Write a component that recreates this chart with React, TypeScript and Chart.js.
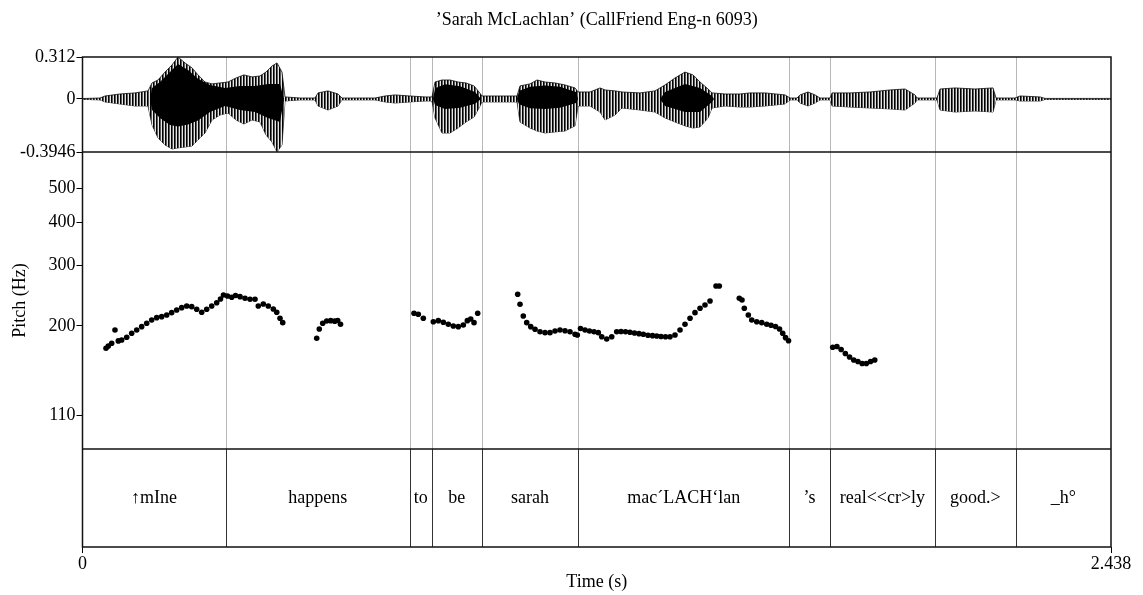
import { useEffect, useRef } from 'react';
import { Chart, registerables } from 'chart.js';

Chart.register(...registerables);

const FONT_FAMILY = "'Liberation Serif', 'Times New Roman', Times, serif";
const TITLE = '\u2019Sarah McLachlan\u2019 (CallFriend Eng-n 6093)';
const DURATION = 2.438;

// Waveform envelope (seconds, amplitude): outer extremes
const waveTimes = [
  0, 0.0415, 0.0533, 0.0889, 0.1245, 0.1553, 0.1648, 0.179, 0.1956, 0.2122,
  0.2264, 0.243, 0.2596, 0.2738, 0.2904, 0.307, 0.3259, 0.3449, 0.3639, 0.3828,
  0.4018, 0.4208, 0.435, 0.4492, 0.4611, 0.4729, 0.48, 0.5156, 0.5511, 0.5583,
  0.582, 0.6057, 0.6151, 0.6934, 0.7171, 0.7408, 0.7763, 0.8119, 0.8285, 0.8356,
  0.8522, 0.8712, 0.8901, 0.9091, 0.9281, 0.9399, 0.947, 0.9897, 1.03, 1.0371,
  1.0608, 1.0774, 1.0964, 1.1201, 1.1438, 1.1675, 1.1746, 1.203, 1.2268, 1.2386,
  1.2623, 1.2789, 1.3216, 1.3571, 1.3808, 1.4045, 1.4282, 1.4472, 1.4638, 1.4828,
  1.4922, 1.523, 1.5586, 1.5823, 1.6178, 1.6653, 1.6771, 1.6937, 1.7008, 1.7198,
  1.7364, 1.7482, 1.772, 1.7767, 1.8194, 1.8668, 1.9142, 1.9498, 1.9734, 1.9781,
  2.0256, 2.0327, 2.0683, 2.1156, 2.1583, 2.1655, 2.2105, 2.2223, 2.2698, 2.2816,
  2.438,
];
const waveUpper = [
  0.003, 0.007, 0.022, 0.037, 0.045, 0.06, 0.119, 0.141, 0.2, 0.253,
  0.312, 0.268, 0.231, 0.179, 0.126, 0.112, 0.119, 0.126, 0.156, 0.179,
  0.164, 0.171, 0.2, 0.245, 0.268, 0.2, 0.015, 0.007, 0.007, 0.045,
  0.06, 0.037, 0.007, 0.007, 0.022, 0.03, 0.022, 0.015, 0.015, 0.126,
  0.141, 0.141, 0.126, 0.119, 0.097, 0.052, 0.022, 0.022, 0.022, 0.097,
  0.112, 0.141, 0.126, 0.119, 0.104, 0.082, 0.052, 0.052, 0.082, 0.067,
  0.06, 0.052, 0.045, 0.06, 0.104, 0.156, 0.2, 0.179, 0.126, 0.074,
  0.045, 0.037, 0.037, 0.045, 0.045, 0.03, 0.007, 0.007, 0.03, 0.052,
  0.03, 0.007, 0.007, 0.045, 0.045, 0.052, 0.067, 0.074, 0.03, 0.007,
  0.007, 0.074, 0.082, 0.074, 0.082, 0.007, 0.007, 0.022, 0.015, 0.004,
  0.004,
];
const waveLower = [
  -0.003, -0.007, -0.022, -0.037, -0.052, -0.052, -0.193, -0.29, -0.342, -0.372,
  -0.364, -0.357, -0.35, -0.305, -0.253, -0.156, -0.119, -0.104, -0.156, -0.186,
  -0.156, -0.171, -0.268, -0.32, -0.394, -0.342, -0.015, -0.007, -0.007, -0.052,
  -0.082, -0.052, -0.007, -0.007, -0.022, -0.03, -0.022, -0.015, -0.015, -0.141,
  -0.253, -0.253, -0.216, -0.171, -0.134, -0.067, -0.022, -0.022, -0.022, -0.171,
  -0.216, -0.238, -0.253, -0.245, -0.238, -0.2, -0.052, -0.052, -0.097, -0.156,
  -0.119, -0.067, -0.082, -0.097, -0.141, -0.171, -0.2, -0.216, -0.208, -0.141,
  -0.067, -0.052, -0.06, -0.06, -0.052, -0.037, -0.007, -0.007, -0.03, -0.052,
  -0.03, -0.007, -0.007, -0.052, -0.06, -0.067, -0.074, -0.082, -0.03, -0.007,
  -0.007, -0.082, -0.097, -0.089, -0.097, -0.007, -0.007, -0.015, -0.015, -0.004,
  -0.004,
];

// Dense core of the louder stretches
const coreTimes = [
  0.16, 0.1648, 0.1837, 0.2074, 0.2264, 0.2501, 0.2738, 0.3022, 0.3378, 0.3734,
  0.4089, 0.4397, 0.4682, 0.4777, 0.8309, 0.8356, 0.8593, 0.8949, 0.9304, 0.9447,
  1.03, 1.0347, 1.0608, 1.0964, 1.1319, 1.1698, 1.1746, 1.369, 1.3808, 1.4282,
  1.4638, 1.4922, 1.497,
];
const coreUpper = [
  0, 0.082, 0.126, 0.2, 0.26, 0.215, 0.15, 0.104, 0.082, 0.097,
  0.097, 0.112, 0.112, 0, 0, 0.08, 0.11, 0.095, 0.052, 0,
  0, 0.06, 0.09, 0.1, 0.09, 0.052, 0, 0, 0.052, 0.112,
  0.082, 0.022, 0,
];
const coreLower = [
  0, -0.082, -0.141, -0.193, -0.205, -0.19, -0.16, -0.097, -0.052, -0.082,
  -0.097, -0.141, -0.171, 0, 0, -0.045, -0.075, -0.065, -0.035, 0,
  0, -0.04, -0.07, -0.075, -0.065, -0.03, 0, 0, -0.052, -0.097,
  -0.097, -0.022, 0,
];

// Pitch track (seconds, Hz)
const pitchTimes = [
  0.0557, 0.0612, 0.0692, 0.077, 0.0849, 0.0929, 0.1048, 0.1166, 0.1285, 0.1403,
  0.1522, 0.164, 0.1759, 0.1877, 0.1996, 0.2114, 0.2233, 0.2352, 0.247, 0.2589,
  0.2707, 0.2826, 0.2944, 0.3063, 0.3181, 0.3271, 0.3342, 0.3437, 0.3537, 0.3627,
  0.3734, 0.3852, 0.3971, 0.4089, 0.4167, 0.4286, 0.4404, 0.4523, 0.4604, 0.4682,
  0.4746,
  0.5552, 0.5613, 0.5694, 0.5789, 0.5884, 0.5978, 0.605, 0.6116,
  0.7858, 0.796, 0.8079,
  0.8316, 0.8434, 0.8553, 0.8671, 0.879, 0.8908, 0.9027, 0.9122, 0.9202, 0.9281,
  0.9368,
  1.0316, 1.0371, 1.0449, 1.053, 1.0625, 1.0727, 1.0845, 1.0964, 1.1082, 1.1201,
  1.1319, 1.1438, 1.1556, 1.1675, 1.1729,
  1.1805, 1.1912, 1.2018, 1.2125, 1.2227, 1.2308, 1.2426, 1.2545, 1.2663, 1.2765,
  1.2872, 1.2978, 1.3085, 1.3192, 1.3294, 1.3405, 1.3512, 1.3611, 1.3713, 1.382,
  1.3927, 1.4045, 1.4164, 1.4282, 1.4401, 1.4519, 1.4638, 1.4756, 1.4875, 1.5017,
  1.5095,
  1.5569, 1.5633, 1.5688, 1.5783, 1.5864, 1.5982, 1.6101, 1.6219, 1.6321, 1.6428,
  1.6523, 1.6598, 1.6665, 1.6736,
  1.7784, 1.7883, 1.7983, 1.8083, 1.8182, 1.8282, 1.8381, 1.8481, 1.858, 1.868,
  1.878,
];
const pitchHz = [
  172.4, 175.0, 178.2, 194.7, 181.0, 182.2, 185.5, 190.5, 194.7, 199.1,
  203.6, 208.2, 211.4, 212.8, 215.2, 218.6, 222.5, 226.0, 228.5, 227.5,
  223.6, 219.1, 223.6, 228.5, 233.6, 239.5, 245.9, 244.3, 242.2, 245.1,
  243.2, 240.6, 239.0, 239.0, 228.5, 231.6, 228.5, 224.0, 219.1, 210.5,
  204.5,
  184.2, 196.0, 203.6, 206.8, 207.2, 206.5, 207.5, 202.3,
  217.7, 216.2, 210.5,
  205.8, 207.2, 205.0, 202.3, 200.0, 199.1, 201.3, 207.2, 209.6, 204.5,
  217.7,
  247.1, 231.2, 213.8, 204.5, 199.1, 195.6, 192.5, 191.3, 191.3, 193.4,
  194.7, 193.8, 192.5, 189.2, 188.3,
  196.7, 194.7, 193.4, 192.5, 191.3, 186.2, 183.4, 186.2, 192.5, 192.8,
  192.5, 191.8, 190.9, 190.0, 189.2, 188.0, 187.5, 187.1, 186.5, 186.2,
  186.2, 188.3, 194.7, 202.3, 210.5, 218.6, 225.1, 230.1, 236.3, 261.2,
  261.2,
  240.6, 237.9, 225.1, 215.2, 208.2, 205.8, 204.5, 202.3, 200.9, 199.3,
  196.0, 190.5, 185.0, 181.3,
  173.5, 174.4, 171.0, 166.5, 162.6, 159.4, 157.8, 155.7, 155.7, 157.8,
  159.4,
];

// Word tier: interval boundaries (s) and the labels between them
const boundaryTimes = [0.3395, 0.7759, 0.8278, 0.9463, 1.1753, 1.6755, 1.7708, 2.0213, 2.2117];
const wordLabels = [
  '\u2191mIne', 'happens', 'to', 'be', 'sarah',
  'mac\u00B4LACH\u2018lan', '\u2019s', 'real<<cr>ly', 'good.>', '_h\u00B0',
];

const waveTicks = [-0.3946, 0, 0.312];
const pitchTicks = [110, 200, 300, 400, 500];
const timeTicks = [0, 2.438];

const toPoints = (xs: number[], ys: number[]) => xs.map((x, i) => ({ x, y: ys[i] }));

const tierPlugin = {
  id: 'tierAndFrame',
  beforeDatasetsDraw(chart: any) {
    const { ctx, scales } = chart;
    const x = scales.x;
    const yW = scales.yW;
    const yP = scales.yP;
    ctx.save();
    ctx.strokeStyle = '#b8b8b8';
    ctx.lineWidth = 1;
    boundaryTimes.forEach((t) => {
      const px = Math.round(x.getPixelForValue(t)) + 0.5;
      ctx.beginPath();
      ctx.moveTo(px, yW.top);
      ctx.lineTo(px, yP.bottom);
      ctx.stroke();
    });
    ctx.restore();
  },
  afterDatasetsDraw(chart: any) {
    const { ctx, scales, chartArea } = chart;
    const x = scales.x;
    const yW = scales.yW;
    const yP = scales.yP;
    const yT = scales.yT;
    ctx.save();
    // interval boundaries inside the tier
    ctx.strokeStyle = '#333';
    ctx.lineWidth = 1;
    boundaryTimes.forEach((t) => {
      const px = Math.round(x.getPixelForValue(t)) + 0.5;
      ctx.beginPath();
      ctx.moveTo(px, yT.top);
      ctx.lineTo(px, yT.bottom);
      ctx.stroke();
    });
    // labels centred in each interval
    const edges = [0, ...boundaryTimes, DURATION];
    ctx.fillStyle = '#000';
    ctx.font = `18px ${FONT_FAMILY}`;
    ctx.textAlign = 'center';
    ctx.textBaseline = 'middle';
    const ty = yT.getPixelForValue(0.5);
    wordLabels.forEach((label, i) => {
      const cx = (x.getPixelForValue(edges[i]) + x.getPixelForValue(edges[i + 1])) / 2;
      ctx.fillText(label, cx, ty);
    });
    // panel frames
    ctx.strokeStyle = '#111';
    ctx.lineWidth = 1.5;
    const { left, right, top, bottom } = chartArea;
    ctx.strokeRect(left, top, right - left, bottom - top);
    [yW.bottom, yP.bottom].forEach((yy: number) => {
      ctx.beginPath();
      ctx.moveTo(left, yy);
      ctx.lineTo(right, yy);
      ctx.stroke();
    });
    ctx.restore();
  },
};

export default function App() {
  const canvasRef = useRef<HTMLCanvasElement | null>(null);

  useEffect(() => {
    const canvas = canvasRef.current;
    if (!canvas) return;

    // striated fill for the outer waveform envelope
    const tile = document.createElement('canvas');
    tile.width = 3;
    tile.height = 1;
    const tctx = tile.getContext('2d')!;
    tctx.fillStyle = '#000';
    tctx.fillRect(0, 0, 1, 1);
    tctx.fillStyle = '#5a5a5a';
    tctx.fillRect(1, 0, 1, 1);
    tctx.fillStyle = '#e6e6e6';
    tctx.fillRect(2, 0, 1, 1);
    const stripes = canvas.getContext('2d')!.createPattern(tile, 'repeat');

    const tickFont = { family: FONT_FAMILY, size: 18 };
    const tickGrid = {
      display: true,
      drawOnChartArea: false,
      drawTicks: true,
      tickLength: 6,
      color: '#000',
      lineWidth: 1,
    };

    const envelopeLine = {
      yAxisID: 'yW',
      borderColor: 'rgba(0,0,0,0.75)',
      borderWidth: 1,
      pointRadius: 0,
      tension: 0,
    };

    const chart = new Chart(canvas, {
      type: 'line',
      data: {
        datasets: [
          {
            ...envelopeLine,
            label: 'envelope max',
            data: toPoints(waveTimes, waveUpper),
            fill: '+1',
            backgroundColor: stripes as any,
            order: 3,
          },
          {
            ...envelopeLine,
            label: 'envelope min',
            data: toPoints(waveTimes, waveLower),
            fill: false,
            order: 3,
          },
          {
            label: 'core max',
            data: toPoints(coreTimes, coreUpper),
            yAxisID: 'yW',
            fill: '+1',
            backgroundColor: '#000',
            borderColor: 'rgba(0,0,0,0)',
            borderWidth: 0,
            pointRadius: 0,
            tension: 0,
            order: 2,
          },
          {
            label: 'core min',
            data: toPoints(coreTimes, coreLower),
            yAxisID: 'yW',
            fill: false,
            borderColor: 'rgba(0,0,0,0)',
            borderWidth: 0,
            pointRadius: 0,
            tension: 0,
            order: 2,
          },
          {
            type: 'scatter',
            label: 'Pitch',
            data: toPoints(pitchTimes, pitchHz),
            yAxisID: 'yP',
            showLine: false,
            pointRadius: 2.8,
            pointBackgroundColor: '#000',
            pointBorderWidth: 0,
            order: 1,
          } as any,
        ],
      },
      options: {
        responsive: false,
        animation: false,
        devicePixelRatio: 1,
        layout: { padding: { left: 0, right: 32, top: 0, bottom: 0 } },
        plugins: {
          legend: { display: false },
          tooltip: { enabled: false },
          title: {
            display: true,
            text: TITLE,
            fullSize: false,
            color: '#000',
            font: { family: FONT_FAMILY, size: 18, weight: 'normal' },
            padding: { top: 9.5, bottom: 25.9 },
          },
        },
        scales: {
          x: {
            type: 'linear',
            min: 0,
            max: DURATION,
            afterBuildTicks: (s: any) => {
              s.ticks = timeTicks.map((v) => ({ value: v }));
            },
            afterFit: (s: any) => {
              s.height = 48;
            },
            ticks: {
              autoSkip: false,
              maxRotation: 0,
              padding: 0,
              color: '#000',
              font: tickFont,
              callback: (v: any) => String(v),
            },
            grid: tickGrid,
            border: { display: false },
            title: {
              display: true,
              text: 'Time (s)',
              color: '#000',
              font: tickFont,
              padding: { top: 0, bottom: 2 },
            },
          },
          yW: {
            type: 'linear',
            position: 'left',
            stack: 'panels',
            stackWeight: 95,
            weight: 3,
            min: -0.3946,
            max: 0.312,
            afterBuildTicks: (s: any) => {
              s.ticks = waveTicks.map((v) => ({ value: v }));
            },
            afterFit: (s: any) => {
              s.width = 82.5;
            },
            ticks: {
              autoSkip: false,
              padding: 1,
              color: '#000',
              font: tickFont,
              callback: (v: any) => String(v),
            },
            grid: tickGrid,
            border: { display: false },
          },
          yP: {
            type: 'logarithmic',
            position: 'left',
            stack: 'panels',
            stackWeight: 297,
            weight: 2,
            min: 88,
            max: 638.5,
            afterBuildTicks: (s: any) => {
              s.ticks = pitchTicks.map((v) => ({ value: v }));
            },
            afterFit: (s: any) => {
              s.width = 82.5;
            },
            ticks: {
              autoSkip: false,
              padding: 1,
              color: '#000',
              font: tickFont,
              callback: (v: any) => String(v),
            },
            grid: tickGrid,
            border: { display: false },
            title: {
              display: true,
              text: 'Pitch (Hz)',
              color: '#000',
              font: tickFont,
              padding: { top: 9, bottom: 0 },
            },
          },
          yT: {
            type: 'linear',
            position: 'left',
            stack: 'panels',
            stackWeight: 98,
            weight: 1,
            min: 0,
            max: 1,
            afterFit: (s: any) => {
              s.width = 82.5;
            },
            ticks: { display: false },
            grid: { display: false },
            border: { display: false },
          },
        },
      } as any,
      plugins: [tierPlugin],
    });

    return () => chart.destroy();
  }, []);

  return (
    <div style={{ position: 'fixed', left: 0, top: 0, width: 1143, height: 595, background: '#fff' }}>
      <canvas ref={canvasRef} width={1143} height={595} style={{ display: 'block' }} />
    </div>
  );
}
